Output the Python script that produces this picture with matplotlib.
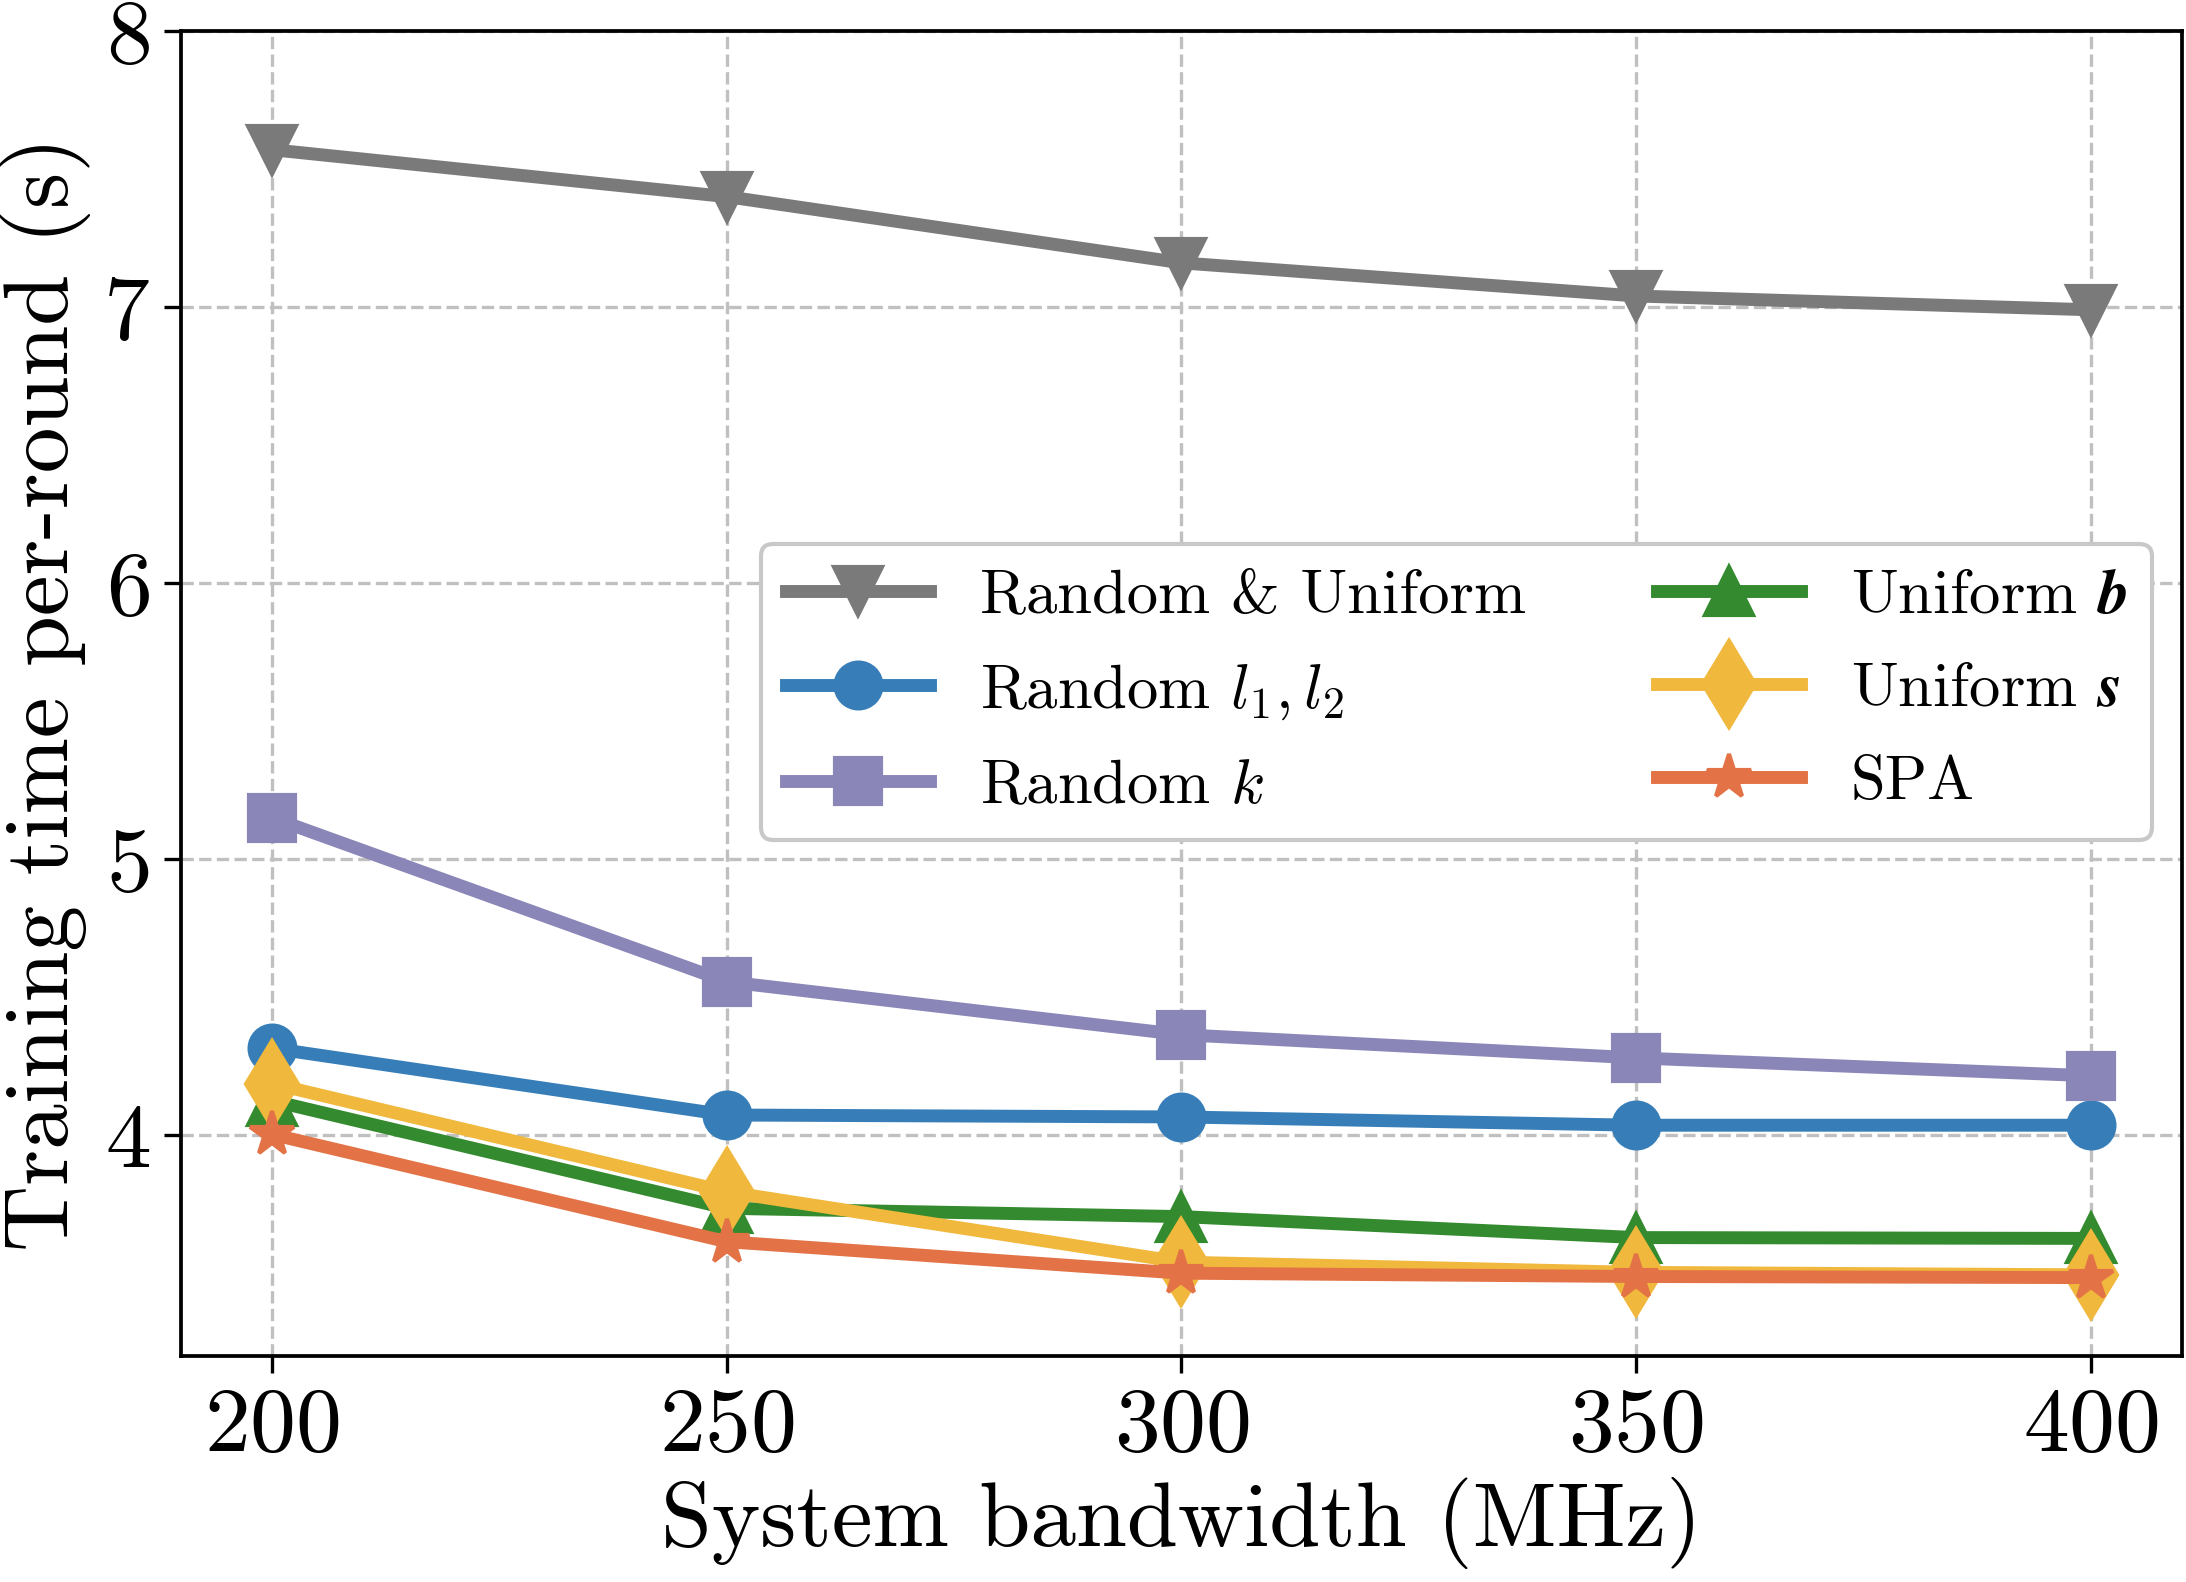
import matplotlib
matplotlib.use("Agg")
import matplotlib.pyplot as plt

plt.rcParams['font.family'] = 'serif'
plt.rcParams['font.serif'] = ['cmr10', 'DejaVu Serif']
plt.rcParams['mathtext.fontset'] = 'cm'
plt.rcParams['axes.formatter.use_mathtext'] = True

bandwidth = [200, 250, 300, 350, 400]
random_uniform = [7.57, 7.40, 7.16, 7.04, 6.99]
random_l = [4.315, 4.073, 4.066, 4.036, 4.036]
random_k = [5.15, 4.556, 4.364, 4.28, 4.215]
uniform_b = [4.125, 3.735, 3.705, 3.629, 3.626]
uniform_s = [4.187, 3.795, 3.54, 3.503, 3.494]
spa = [4.003, 3.614, 3.50, 3.488, 3.484]

labels = ['Random & Uniform', r'Random $l_1, l_2$', r'Random $k$',
          r'Uniform $\boldsymbol{b}$', r'Uniform $\boldsymbol{s}$', 'SPA']
series = [random_uniform, random_l, random_k, uniform_b, uniform_s, spa]
colors = ['#7a7a7a', '#377eb8', '#8a86b8', '#348a2e', '#f0b83c', '#e37346']
markers = ['v', 'o', 's', '^', 'd', '*']
msizes = [11.5, 11, 11, 11.5, 14.5, 11]

fig = plt.figure(figsize=(2186/300, 1582/300), dpi=300)
ax = fig.add_axes([181/2186, 1 - 1356/1582, (2182-181)/2186, (1356-31)/1582])

for y, lab, c, m, ms in zip(series, labels, colors, markers, msizes):
    ax.plot(bandwidth, y, color=c, marker=m, markersize=ms, linewidth=3.1,
            label=lab)

ax.set_xlim(190, 410)
ax.set_ylim(3.2, 8)
ax.set_xticks(bandwidth)
ax.set_yticks([4, 5, 6, 7, 8])
ax.tick_params(labelsize=22, direction='out', length=4, width=0.8)
ax.grid(True, linestyle='--', color='#c0c0c0', linewidth=0.8)
ax.set_xlabel('System bandwidth (MHz)', fontsize=22, labelpad=2)
ax.set_ylabel('Training time per-round (s)', fontsize=22, labelpad=3)
for s in ax.spines.values():
    s.set_linewidth(0.9)

leg = ax.legend(ncol=2, loc='upper right', bbox_to_anchor=(0.985, 0.613),
                borderaxespad=0, fontsize=15, handlelength=2.3,
                columnspacing=2.1, labelspacing=0.6, fancybox=True,
                edgecolor='#c8c8c8', framealpha=1)

fig.savefig('out.png', dpi=300)
